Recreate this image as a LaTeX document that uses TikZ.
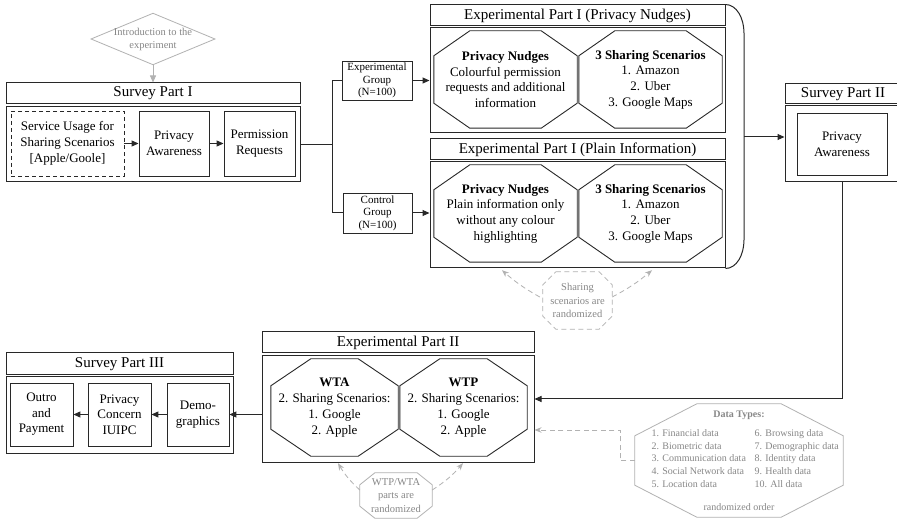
\documentclass[tikz,border=0pt]{standalone}
\usepackage{fontspec}
\setmainfont{Liberation Serif}
\usetikzlibrary{arrows.meta,calc,shapes.geometric}

\definecolor{lineblk}{RGB}{40,40,40}
\definecolor{lgray}{RGB}{178,178,178}
\definecolor{tgray}{RGB}{135,135,135}

% octagon outline around a (plain) node: node name, horizontal chamfer, vertical chamfer
\newcommand\octpath[3]{%
  ($(#1.north west)+(#2,0)$) -- ($(#1.north east)+(-#2,0)$) --
  ($(#1.north east)+(0,#3)$) -- ($(#1.south east)+(0,-#3)$) --
  ($(#1.south east)+(-#2,0)$) -- ($(#1.south west)+(#2,0)$) --
  ($(#1.south west)+(0,-#3)$) -- ($(#1.north west)+(0,#3)$) -- cycle}

\begin{document}
\begin{tikzpicture}[x=1pt,y=-1pt,
  frame/.style={draw=lineblk,line width=1pt,inner sep=0pt},
  titlebox/.style={frame,font=\fontsize{15}{17}\selectfont},
  innerbox/.style={draw=lineblk,line width=0.9pt,inner sep=0pt,align=center,font=\fontsize{13}{16}\selectfont},
  octtext/.style={inner sep=0pt,align=center,font=\fontsize{13}{15.6}\selectfont},
  octline/.style={draw=lineblk,line width=0.9pt,line join=miter},
  grpbox/.style={draw=lineblk,line width=0.9pt,inner sep=0pt,align=center,font=\fontsize{11}{12.5}\selectfont},
  notetext/.style={inner sep=0pt,align=center,text=tgray,font=\fontsize{10.5}{13.5}\selectfont},
  link/.style={line width=1pt,draw=lineblk},
  arr/.style={link,-{Triangle[length=7pt,width=6pt]}},
  garr/.style={line width=0.8pt,draw=lgray,dash pattern=on 5pt off 3.5pt,-{Stealth[length=7pt,width=5.5pt]}},
  gline/.style={line width=0.8pt,draw=lgray},
]
\fill[white] (0,0) rectangle (897,526);
\useasboundingbox (0,0) rectangle (897,526);

% ---------- introduction ----------
\node[diamond,draw=lgray,line width=0.8pt,aspect=2.4,inner xsep=-4pt,inner ysep=0pt,
      text=tgray,font=\fontsize{10.5}{13}\selectfont,align=center] (intro) at (153,39)
      {Introduction to the\\experiment};

% ---------- Survey Part I ----------
\node[titlebox,minimum width=294pt,minimum height=21pt] (sp1t) at (153,93.5) {Survey Part I};
\node[frame,minimum width=294pt,minimum height=75pt] (sp1b) at (153,144.5) {};
\node[innerbox,dash pattern=on 4pt off 3pt,minimum width=113pt,minimum height=65pt] (su) at (67.5,143.5)
      {Service Usage for\\Sharing Scenarios\\{[Apple/Goole]}};
\node[innerbox,minimum width=70pt,minimum height=65pt] (pa1) at (174,143.5) {Privacy\\Awareness};
\node[innerbox,minimum width=71pt,minimum height=65pt] (pr) at (259.5,143.5) {Permission\\Requests};
\draw[gline,-{Triangle[length=7pt,width=6pt]}] (intro) -- (sp1t);
\draw[arr] (su) -- (pa1);
\draw[arr] (pa1) -- (pr);

% ---------- groups ----------
\node[grpbox,minimum width=70pt,minimum height=39pt] (eg) at (377,80.5) {Experimental\\Group\\(N=100)};
\node[grpbox,minimum width=69pt,minimum height=40pt] (cg) at (377.5,213) {Control\\Group\\(N=100)};
\coordinate (split) at (332,144.5);
\draw[link] (sp1b.east) -- (split);
\draw[link] (split) |- (eg.west);
\draw[link] (split) |- (cg.west);

% ---------- Experimental Part I ----------
\node[titlebox,minimum width=295pt,minimum height=21pt] (ep1t) at (577.5,15.5) {Experimental Part I (Privacy Nudges)};
\node[frame,minimum width=295pt,minimum height=105pt] (ep1b) at (577.5,80.5) {};
\node[octtext,minimum width=143pt,minimum height=97pt] (pn1) at (505.5,79.5)
      {\textbf{Privacy Nudges}\\Colourful permission\\requests and additional\\information};
\node[octtext,minimum width=143pt,minimum height=97pt] (ss1) at (650.5,79.5)
      {\textbf{3 Sharing Scenarios}\\1. Amazon\\2. Uber\\3. Google Maps};
\draw[octline] \octpath{pn1}{36}{25};
\draw[octline] \octpath{ss1}{36}{25};

\node[titlebox,minimum width=295pt,minimum height=21pt] (ep2t) at (577.5,149.5) {Experimental Part I (Plain Information)};
\node[frame,minimum width=295pt,minimum height=106pt] (ep2b) at (577.5,215) {};
\node[octtext,minimum width=143pt,minimum height=97pt] (pn2) at (505.5,213.5)
      {\textbf{Privacy Nudges}\\Plain information only\\without any colour\\highlighting};
\node[octtext,minimum width=143pt,minimum height=97pt] (ss2) at (650.5,213.5)
      {\textbf{3 Sharing Scenarios}\\1. Amazon\\2. Uber\\3. Google Maps};
\draw[octline] \octpath{pn2}{36}{25};
\draw[octline] \octpath{ss2}{36}{25};

\draw[arr] (eg) -- (eg -| ep1b.west);
\draw[arr] (cg) -- (cg -| ep2b.west);

% bracket joining both experimental variants
\coordinate (brt) at (744,33);
\coordinate (brb) at (744,240);
\coordinate (brm) at (744,137);
\draw[frame] (ep1t.north east) .. controls +(11,0) and +(0,-15) .. (brt) -- (brb)
      .. controls +(0,15) and +(11,0) .. (ep2b.south east);

% randomisation note of the sharing scenarios
\node[notetext,minimum width=69pt,minimum height=57pt] (shr) at (577.5,300.5) {Sharing\\scenarios are\\randomized};
\draw[gline,dash pattern=on 5pt off 3.5pt] \octpath{shr}{13}{13};
\draw[garr] ($(shr.west)+(-3,-3.5)$) to[bend left=6] ($(pn2.south)+(-3.5,8)$);
\draw[garr] ($(shr.east)+(0,-3.5)$) to[bend right=6] ($(ss2.south)+(1.5,8)$);

% ---------- Survey Part II ----------
\node[titlebox,minimum width=116pt,minimum height=20pt] (sp2t) at (843,94) {Survey Part II};
\node[frame,minimum width=116pt,minimum height=76pt] (sp2b) at (843,144) {};
\node[innerbox,minimum width=90pt,minimum height=62pt] (pa2) at (842,144) {Privacy\\Awareness};
\draw[arr] (brm) -- (brm -| sp2b.west);

% ---------- Experimental Part II ----------
\node[titlebox,minimum width=272pt,minimum height=21pt] (ep3t) at (398,342.5) {Experimental Part II};
\node[frame,minimum width=272pt,minimum height=106pt] (ep3b) at (398,409) {};
\node[octtext,font=\fontsize{13}{16}\selectfont,minimum width=127pt,minimum height=97pt] (wta) at (334.5,407.5)
      {\textbf{WTA}\\2. Sharing Scenarios:\\1. Google\\2. Apple};
\node[octtext,font=\fontsize{13}{16}\selectfont,minimum width=127pt,minimum height=97pt] (wtp) at (463.5,407.5)
      {\textbf{WTP}\\2. Sharing Scenarios:\\1. Google\\2. Apple};
\draw[octline] \octpath{wta}{40}{27};
\draw[octline] \octpath{wtp}{40}{27};

\coordinate (dn) at (842,399);
\draw[arr] (pa2.south |- sp2b.south) -- (dn) -- (dn -| ep3b.east);

% randomisation note of WTP/WTA
\node[notetext,minimum width=72pt,minimum height=45pt] (wr) at (396,495.5) {WTP/WTA\\parts are\\randomized};
\draw[gline] \octpath{wr}{15}{12};
\draw[garr] ($(wr.west)+(0,-5.5)$) to[bend left=8] ($(wta.south)+(3.5,7)$);
\draw[garr] ($(wr.east)+(0,-5.5)$) to[bend right=8] ($(wtp.south)+(-0.5,7)$);

% ---------- data types ----------
\node[inner sep=0pt,minimum width=208pt,minimum height=113pt,align=center,text=tgray,
      font=\fontsize{10}{12.7}\selectfont] (dt) at (739,460.5)
  {{\bfseries Data Types:}\\[6.3pt]
   \hspace*{16pt}\makebox[103pt][l]{1. Financial data}\makebox[88pt][l]{6. Browsing data}\\
   \hspace*{16pt}\makebox[103pt][l]{2. Biometric data}\makebox[88pt][l]{7. Demographic data}\\
   \hspace*{16pt}\makebox[103pt][l]{3. Communication data}\makebox[88pt][l]{8. Identity data}\\
   \hspace*{16pt}\makebox[103pt][l]{4. Social Network data}\makebox[88pt][l]{9. Health data}\\
   \hspace*{16pt}\makebox[103pt][l]{5. Location data}\makebox[88pt][l]{10. All data}\\[10.3pt]
   randomized order};
\draw[gline] \octpath{dt}{62}{32};
\coordinate (dk) at (620,430);
\draw[garr] (dt.west) -| (dk) -- (dk -| ep3b.east);

% ---------- Survey Part III ----------
\node[titlebox,minimum width=227pt,minimum height=22pt] (sp3t) at (119.5,364) {Survey Part III};
\node[frame,minimum width=227pt,minimum height=76pt] (sp3b) at (119.5,415) {};
\node[innerbox,font=\fontsize{13}{15.5}\selectfont,minimum width=63pt,minimum height=63pt] (op) at (41.5,414.5) {Outro\\and\\Payment};
\node[innerbox,font=\fontsize{13}{15.5}\selectfont,minimum width=63pt,minimum height=63pt] (pc) at (119.5,414.5) {Privacy\\Concern\\IUIPC};
\node[innerbox,minimum width=62pt,minimum height=63pt] (dm) at (198,414.5) {Demo-\\graphics};
\draw[arr] (ep3b.west |- dm) -- (dm);
\draw[arr] (dm) -- (pc);
\draw[arr] (pc) -- (op);

\end{tikzpicture}
\end{document}
